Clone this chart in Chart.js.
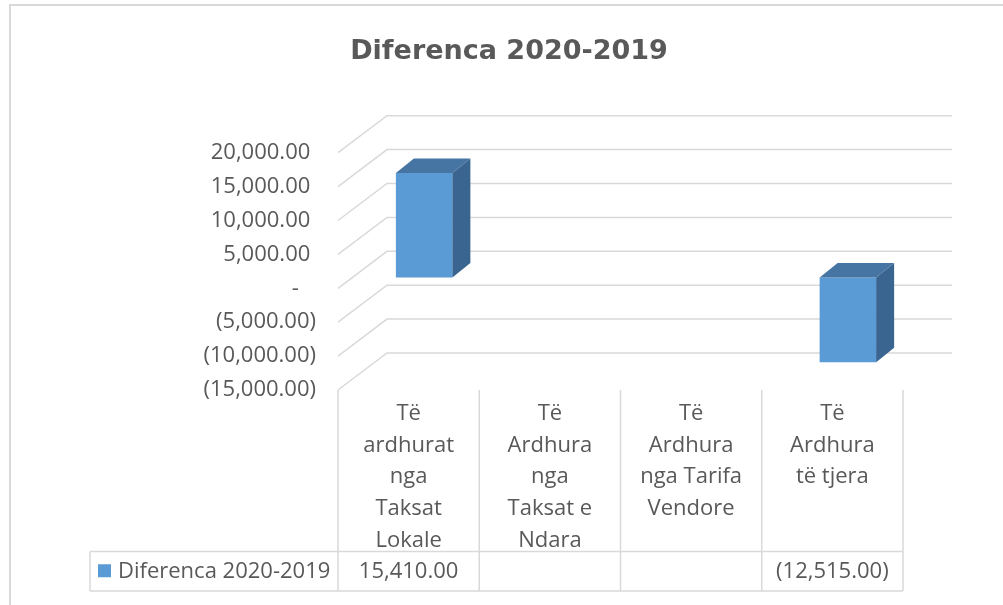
<!DOCTYPE html>
<html>
<head>
<meta charset="utf-8">
<script src="https://cdn.jsdelivr.net/npm/chart.js@4/dist/chart.umd.min.js"></script>
<style>
  html, body { margin: 0; padding: 0; background: #fff; }
  #wrap { width: 1003px; height: 605px; }
</style>
</head>
<body>
<div id="wrap"><canvas id="myChart" width="1003" height="605"></canvas></div>
<script>
// data
var chartTitle = 'Diferenca 2020-2019';
var seriesName = 'Diferenca 2020-2019';
var categories = [
    ['Të', 'ardhurat', 'nga', 'Taksat', 'Lokale'],
    ['Të', 'Ardhura', 'nga', 'Taksat e', 'Ndara'],
    ['Të', 'Ardhura', 'nga Tarifa', 'Vendore'],
    ['Të', 'Ardhura', 'të tjera']
];
var values = [15410, null, null, -12515];
var yMin = -15000, yMax = 20000, yStep = 5000;

var textColor = '#595959';
var gridColor = '#d9d9d9';
var barFront = '#5b9bd5';
var barTop = '#4775a3';
var barSide = '#3a6590';

// pseudo 3d offsets
var wallDX = 49, wallDY = 37;
var barShiftX = 15.5, barShiftY = 10.8;
var barDX = 18, barDY = 14.5;

function accounting(v) {
    if (v === null || v === undefined) return '';
    if (v === 0) return '-   ';
    var s = Math.abs(v).toLocaleString('en-US', {minimumFractionDigits: 2, maximumFractionDigits: 2});
    return v < 0 ? '(' + s + ')' : s + ' ';
}

var fake3d = {
    id: 'fake3d',
    beforeDraw: function(chart) {
        var ctx = chart.ctx;
        ctx.save();
        ctx.strokeStyle = gridColor;
        ctx.lineWidth = 2;
        ctx.beginPath();
        ctx.moveTo(10, 605);
        ctx.lineTo(10, 5);
        ctx.lineTo(1003, 5);
        ctx.stroke();
        ctx.restore();
    },
    beforeDatasetsDraw: function(chart) {
        var ctx = chart.ctx, y = chart.scales.y, a = chart.chartArea;
        ctx.save();
        ctx.strokeStyle = gridColor;
        ctx.lineWidth = 1.5;
        for (var v = yMin; v <= yMax; v += yStep) {
            var py = y.getPixelForValue(v);
            ctx.beginPath();
            ctx.moveTo(a.left, py);
            ctx.lineTo(a.left + wallDX, py - wallDY);
            ctx.lineTo(a.right + wallDX, py - wallDY);
            ctx.stroke();
        }
        ctx.restore();
        ctx.save();
        ctx.translate(barShiftX, -barShiftY);
    },
    afterDatasetsDraw: function(chart) {
        var ctx = chart.ctx;
        var meta = chart.getDatasetMeta(0);
        meta.data.forEach(function(bar, i) {
            if (values[i] === null) return;
            var p = bar.getProps(['x', 'y', 'base', 'width'], true);
            var l = p.x - p.width / 2, r = p.x + p.width / 2;
            var t = Math.min(p.y, p.base), b = Math.max(p.y, p.base);
            ctx.fillStyle = barTop;
            ctx.beginPath();
            ctx.moveTo(l, t);
            ctx.lineTo(l + barDX, t - barDY);
            ctx.lineTo(r + barDX, t - barDY);
            ctx.lineTo(r, t);
            ctx.closePath();
            ctx.fill();
            ctx.fillStyle = barSide;
            ctx.beginPath();
            ctx.moveTo(r, t);
            ctx.lineTo(r + barDX, t - barDY);
            ctx.lineTo(r + barDX, b - barDY);
            ctx.lineTo(r, b);
            ctx.closePath();
            ctx.fill();
        });
        ctx.restore();
    },
    afterDraw: function(chart) {
        // data table under the plot
        var ctx = chart.ctx, x = chart.scales.x, a = chart.chartArea;
        var half = (x.getPixelForValue(1) - x.getPixelForValue(0)) / 2;
        var rowTop = 551.5, rowBot = 591, legLeft = 90;
        ctx.save();
        ctx.strokeStyle = gridColor;
        ctx.lineWidth = 1.5;
        ctx.beginPath();
        for (var i = 0; i <= categories.length; i++) {
            var bx = x.getPixelForValue(0) - half + i * half * 2;
            ctx.moveTo(bx, a.bottom);
            ctx.lineTo(bx, rowBot);
        }
        ctx.moveTo(legLeft, rowTop);
        ctx.lineTo(a.right, rowTop);
        ctx.moveTo(legLeft, rowBot);
        ctx.lineTo(a.right, rowBot);
        ctx.moveTo(legLeft, rowTop);
        ctx.lineTo(legLeft, rowBot);
        ctx.stroke();

        var midY = (rowTop + rowBot) / 2;
        ctx.fillStyle = barFront;
        ctx.fillRect(98, midY - 7, 13, 13);
        ctx.fillStyle = textColor;
        ctx.font = '22px "Open Sans"';
        ctx.textBaseline = 'middle';
        ctx.textAlign = 'left';
        ctx.fillText(seriesName, 118, midY);
        ctx.textAlign = 'center';
        values.forEach(function(v, i) {
            ctx.fillText(accounting(v).trim(), x.getPixelForValue(i), midY);
        });
        ctx.restore();
    }
};

var ctx = document.getElementById('myChart').getContext('2d');

var myBarChart = new Chart(ctx, {
    type: 'bar',
    data: {
        labels: categories,
        datasets: [{
            label: seriesName,
            data: values,
            backgroundColor: barFront,
            barPercentage: 0.4,
            categoryPercentage: 1.0
        }]
    },
    options: {
        responsive: false,
        animation: false,
        layout: {
            padding: {left: 115, right: 100, top: 0, bottom: 0}
        },
        plugins: {
            legend: { display: false },
            tooltip: { enabled: false },
            title: {
                display: true,
                text: chartTitle,
                color: textColor,
                font: { family: 'DejaVu Sans', size: 27, weight: 'bold' },
                padding: { top: 36, bottom: 84.3 }
            }
        },
        scales: {
            x: {
                grid: { display: false, drawTicks: false },
                border: { display: false },
                ticks: {
                    color: textColor,
                    font: { family: 'Open Sans', size: 22, lineHeight: 1.44 },
                    padding: 8,
                    maxRotation: 0,
                    autoSkip: false
                },
                afterFit: function(scale) { scale.height = 215; }
            },
            y: {
                min: yMin,
                max: yMax,
                grid: { display: false, drawTicks: false },
                border: { display: false },
                ticks: {
                    stepSize: yStep,
                    color: textColor,
                    font: { family: 'Open Sans', size: 22 },
                    padding: 22,
                    callback: function(v) { return accounting(v); }
                },
                afterFit: function(scale) { scale.width = 223; }
            }
        }
    },
    plugins: [fake3d]
});
</script>
</body>
</html>
